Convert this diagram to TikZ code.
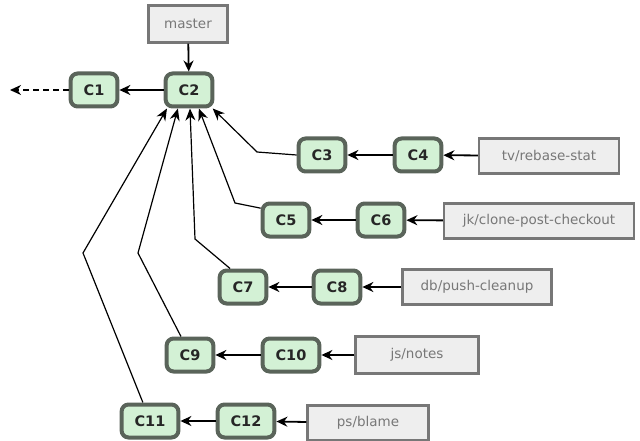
\documentclass[tikz,border=0pt]{standalone}
\usepackage{fontspec}
\setmainfont{DejaVu Sans}
\usepackage{xcolor}
\usepackage{tikz}
\usetikzlibrary{arrows.meta,positioning}

\definecolor{commitfill}{HTML}{D3F1D5}
\definecolor{commitline}{HTML}{5A645A}
\definecolor{branchfill}{HTML}{EEEEEE}
\definecolor{branchline}{HTML}{777777}
\definecolor{branchtext}{HTML}{777777}

\begin{document}
\begin{tikzpicture}[x=1pt, y=-1pt]
    % Styles
    \tikzstyle{commit}=[rectangle, rounded corners=7pt, minimum width=46pt, minimum height=33pt, inner xsep=13pt, line width=4pt, draw=commitline, fill=commitfill, text=black!85, font=\fontsize{14.5}{16}\selectfont\bfseries]
    \tikzstyle{branch}=[rectangle, minimum width=120pt, minimum height=35pt, line width=2.2pt, draw=branchline, fill=branchfill, text=branchtext, font=\fontsize{13.5}{16}\selectfont]
    \tikzstyle{arrow}=[-{Stealth[length=11pt,width=10pt]}, line width=1.8pt]
    \tikzstyle{link}=[-{Stealth[length=12pt,width=10pt]}, line width=1.2pt]

    \useasboundingbox (0,0) rectangle (640,441);

    % Commits
    \node (c1) [commit] at (94,90) {C1};
    \node (c2) [commit] at (189,90) {C2};
    \node (c3) [commit] at (322,155) {C3};
    \node (c4) [commit] at (418,155) {C4};
    \node (c5) [commit] at (286,220) {C5};
    \node (c6) [commit] at (381,220) {C6};
    \node (c7) [commit] at (243,287) {C7};
    \node (c8) [commit] at (337,287) {C8};
    \node (c9) [commit] at (190,355) {C9};
    \node (c10) [commit] at (291,355) {C10};
    \node (c11) [commit] at (150,421) {C11};
    \node (c12) [commit] at (246,421) {C12};
    \coordinate (older) at (10,90);

    % Branches
    \node (master) [branch, minimum width=79pt, minimum height=37pt] at (188,24) {master};
    \node (rebase) [branch, minimum width=140pt] at (549,156) {tv/rebase-stat};
    \node (clone) [branch, minimum width=190pt] at (539,221) {jk/clone-post-checkout};
    \node (cleanup) [branch, minimum width=149pt] at (477,287) {db/push-cleanup};
    \node (notes) [branch, minimum width=123pt, minimum height=37pt] at (417,355) {js/notes};
    \node (blame) [branch, minimum width=121pt] at (368,423) {ps/blame};

    % Links
    \draw [arrow] (master) -- (c2);
    \draw [arrow] (c2) -- (c1);
    \draw [arrow, dash pattern=on 6pt off 4pt] (c1) -- (older);
    \draw [arrow] (rebase) -- (c4);
    \draw [arrow] (c4) -- (c3);
    \draw [arrow] (clone) -- (c6);
    \draw [arrow] (c6) -- (c5);
    \draw [arrow] (cleanup) -- (c8);
    \draw [arrow] (c8) -- (c7);
    \draw [arrow] (notes) -- (c10);
    \draw [arrow] (c10) -- (c9);
    \draw [arrow] (blame) -- (c12);
    \draw [arrow] (c12) -- (c11);

    \draw [link] (c3.west) -- (257,152) -- (c2.322);
    \draw [link] (c5.155) -- (235,203) -- (c2.298);
    \draw [link] (c7.125) -- (195,239) -- (c2.273);
    \draw [link] (c9.116) -- (138,253) -- (c2.239);
    \draw [link] (c11.111) -- (83,253) -- (c2.220);

\end{tikzpicture}
\end{document}
